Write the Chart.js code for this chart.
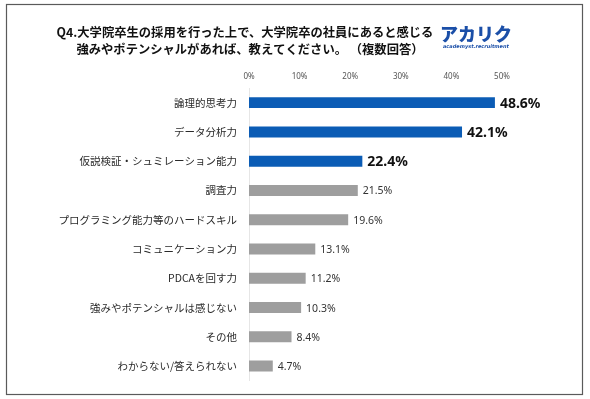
<!DOCTYPE html>
<html><head><meta charset="utf-8">
<script src="https://cdn.jsdelivr.net/npm/chart.js@4"></script>
<style>html,body{margin:0;padding:0;background:#fff}#wrap{width:590px;height:399px;position:relative}</style>
</head><body><div id="wrap"><canvas id="c" width="590" height="399"></canvas></div>
<script>
const categories = ["論理的思考力","データ分析力","仮説検証・シュミレーション能力","調査力","プログラミング能力等のハードスキル","コミュニケーション力","PDCAを回す力","強みやポテンシャルは感じない","その他","わからない/答えられない"];
const values = [48.6, 42.1, 22.4, 21.5, 19.6, 13.1, 11.2, 10.3, 8.4, 4.7];
const tickValues = [0, 10, 20, 30, 40, 50];
const titleLines = ["Q4.大学院卒生の採用を行った上で、大学院卒の社員にあると感じる","強みやポテンシャルがあれば、教えてください。 （複数回答）"];
const highlightCount = 3;
const BLUE = "#0b5cb5", GRAY = "#9e9e9e";
const FONT = "'Noto Sans CJK JP','Noto Sans',sans-serif";

const decor = {
  id: 'decor',
  afterDraw(chart) {
    const ctx = chart.ctx;
    ctx.save();
    ctx.strokeStyle = '#5a5a5a'; ctx.lineWidth = 1.2;
    ctx.strokeRect(6.5, 4.5, 576, 390);
    ctx.fillStyle = '#111'; ctx.textAlign = 'center'; ctx.textBaseline = 'middle';
    ctx.font = "bold 12.3px " + FONT;
    ctx.fillText(titleLines[0], 245, 32);
    ctx.fillText(titleLines[1], 250, 49);
    // logo
    ctx.fillStyle = '#1b4fa8';
    ctx.font = "900 18px " + FONT;
    ctx.textAlign = 'left';
    ctx.fillText("アカリク", 440, 34);
    ctx.font = "italic bold 5px 'DejaVu Sans',sans-serif";
    ctx.fillText("academyst.recruitment", 443, 47);
    ctx.restore();
  },
  afterDatasetsDraw(chart) {
    const ctx = chart.ctx;
    const meta = chart.getDatasetMeta(0);
    ctx.save();
    ctx.textBaseline = 'middle'; ctx.textAlign = 'left';
    meta.data.forEach((bar, i) => {
      const v = values[i];
      if (i < highlightCount) { ctx.font = "bold 14px 'Noto Sans',sans-serif"; ctx.fillStyle = '#111'; }
      else { ctx.font = "10.5px 'Noto Sans',sans-serif"; ctx.fillStyle = '#333'; }
      ctx.fillText(v.toFixed(1) + '%', bar.x + 5, bar.y + 1);
    });
    ctx.restore();
  }
};

new Chart(document.getElementById('c'), {
  type: 'bar',
  data: {
    labels: categories,
    datasets: [{
      data: values,
      backgroundColor: ctx => ctx.dataIndex < highlightCount ? BLUE : GRAY,
      barPercentage: 0.75,
      categoryPercentage: 0.5,
      borderWidth: 0
    }]
  },
  options: {
    indexAxis: 'y',
    responsive: false,
    animation: false,
    layout: { padding: { top: 68, bottom: 18, right: 88, left: 0 } },
    plugins: { legend: { display: false }, tooltip: { enabled: false }, title: { display: false } },
    scales: {
      x: {
        position: 'top', min: 0, max: 50,
        afterBuildTicks: s => { s.ticks = tickValues.map(v => ({ value: v })); },
        afterFit: s => { s.height = 20; },
        grid: { display: false, drawTicks: false },
        border: { display: false },
        ticks: { padding: 6, color: '#555', font: { size: 8, family: "'Noto Sans',sans-serif" }, callback: v => v + '%' }
      },
      y: {
        afterFit: s => { s.width = 249; },
        grid: { display: false, drawTicks: false },
        border: { display: true, color: '#e6e6e6', width: 1 },
        ticks: { padding: 12, color: '#2a2a2a', font: { size: 10.5, family: FONT } }
      }
    }
  },
  plugins: [decor]
});
</script></body></html>
